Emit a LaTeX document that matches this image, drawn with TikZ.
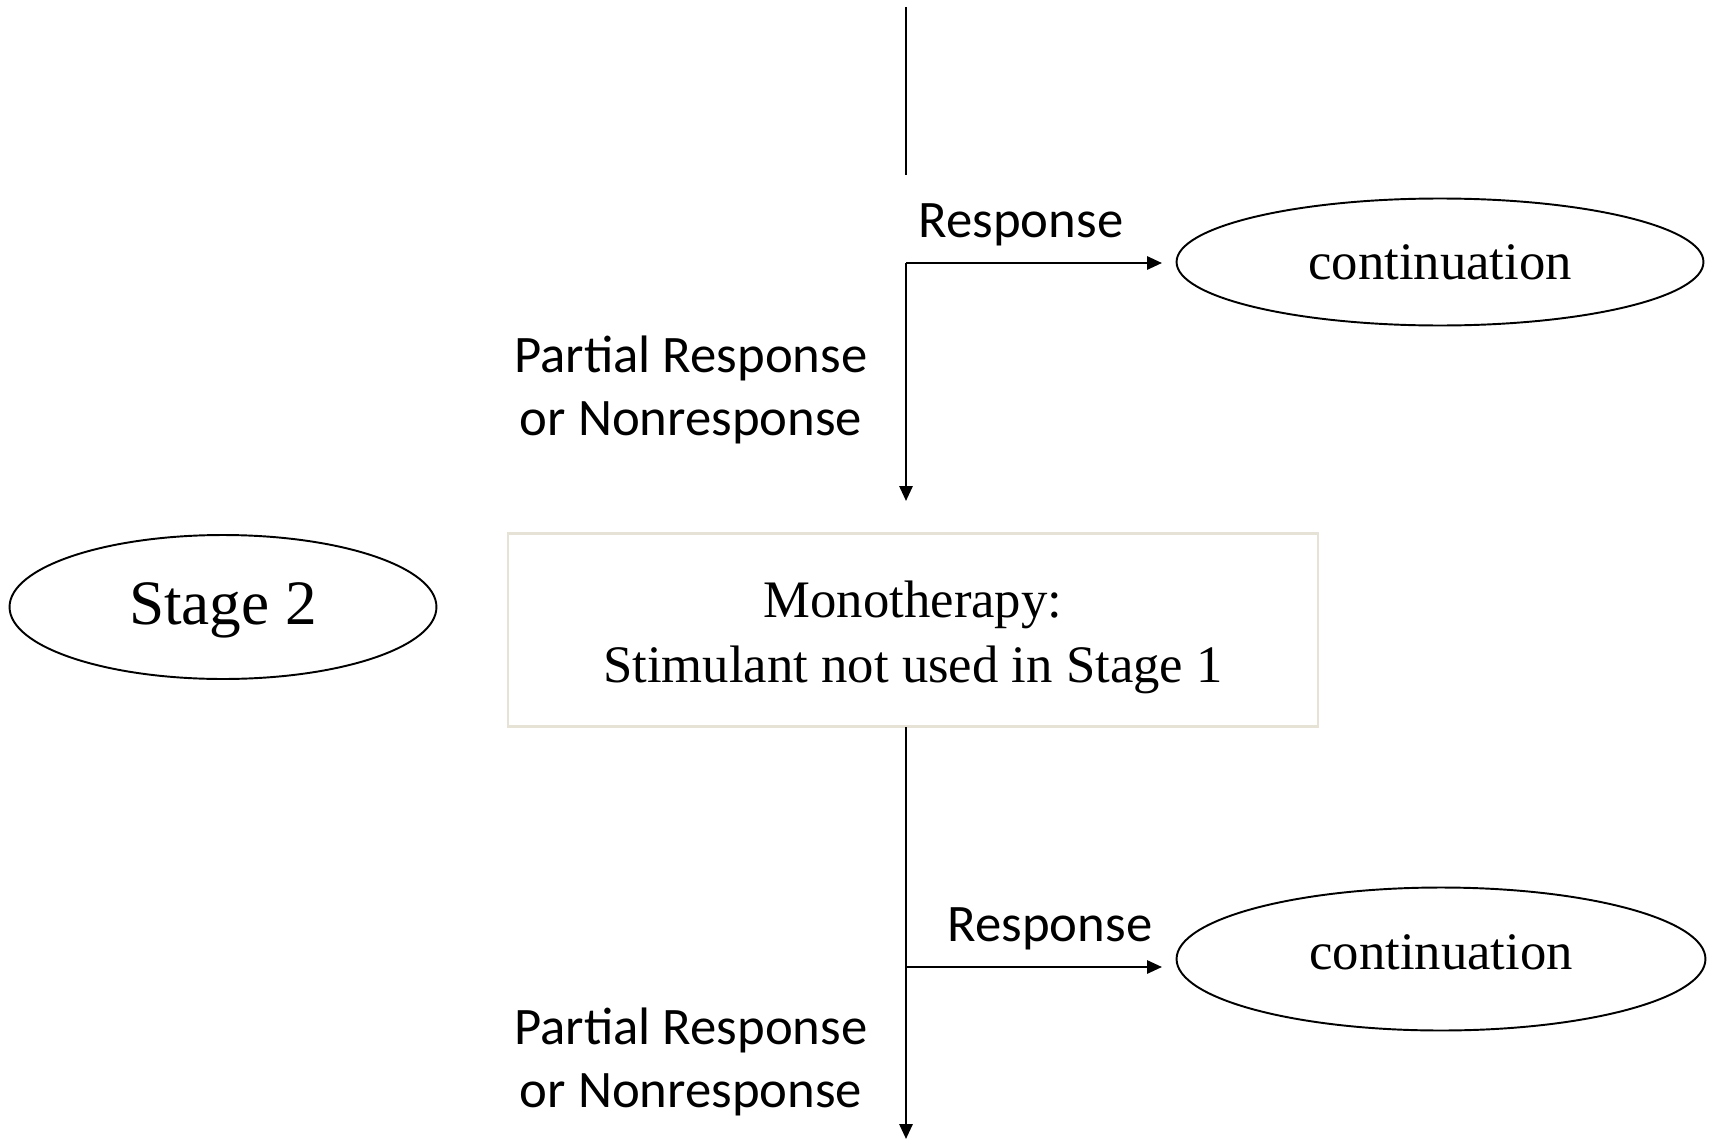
\documentclass[tikz,border=0pt]{standalone}
\usepackage{fontspec}
\setmainfont{Liberation Serif}
\newfontfamily\labelfont{Carlito}
\usetikzlibrary{arrows.meta,shapes.geometric}
\definecolor{boxline}{HTML}{E6E3D6}
\begin{document}
\begin{tikzpicture}[x=0.02cm,y=-0.02cm,
  flow/.style={line width=1.3pt,black},
  arrowflow/.style={flow,-{Triangle[length=8.5pt,width=7.5pt]}},
  oval/.style={ellipse,draw,line width=1.1pt,inner sep=0pt},
  ovaltext/.style={inner sep=0pt,font=\fontsize{30}{36}\selectfont},
  treatbox/.style={draw=boxline,line width=1.2pt,inner sep=0pt},
  boxtext/.style={inner sep=0pt,align=center,font=\fontsize{30}{36}\selectfont},
  branchlabel/.style={font=\labelfont\fontsize{30}{36}\selectfont,align=center,inner sep=0pt}]
\useasboundingbox (0,0) rectangle (1716,1142);

% outlines
\node[oval,minimum width=10.54cm,minimum height=2.54cm] (cont1) at (1440,262) {};
\node[oval,minimum width=10.58cm,minimum height=2.86cm] (cont2) at (1441,959) {};
\node[oval,minimum width=8.54cm,minimum height=2.88cm] (stage) at (223,607) {};
\node[treatbox,minimum width=16.22cm,minimum height=3.86cm] (mono) at (913,630) {};

% texts inside the outlines
\node[ovaltext] (cont1text) at (1440,262) {continuation};
\node[ovaltext] (cont2text) at (1441,952) {continuation};
\node[ovaltext,font=\fontsize{36}{42}\selectfont] (stagetext) at (223,610) {Stage 2};
\node[boxtext] (monotext) at (913,637) {Monotherapy:\\[1pt] Stimulant not used in Stage 1};

% branch labels
\node[branchlabel] (resp1) at (1021,225) {Response};
\node[branchlabel] (pnr1) at (691,390) {Partial Response\\or Nonresponse};
\node[branchlabel] (resp2) at (1050,929) {Response};
\node[branchlabel] (pnr2) at (691,1062) {Partial Response\\or Nonresponse};

% connector points
\coordinate (in0) at (906,7);
\coordinate (in1) at (906,175);
\coordinate (b1) at (906,263);
\coordinate (r1) at (1162,263);
\coordinate (d1) at (906,501);
\coordinate (m1) at (906,727);
\coordinate (b2) at (906,967);
\coordinate (r2) at (1162,967);
\coordinate (d2) at (906,1139);

% connectors
\draw[flow] (in0) -- (in1);
\draw[arrowflow] (b1) -- (r1);
\draw[arrowflow] (b1) -- (d1);
\draw[arrowflow] (m1) -- (d2);
\draw[arrowflow] (b2) -- (r2);
\end{tikzpicture}
\end{document}
